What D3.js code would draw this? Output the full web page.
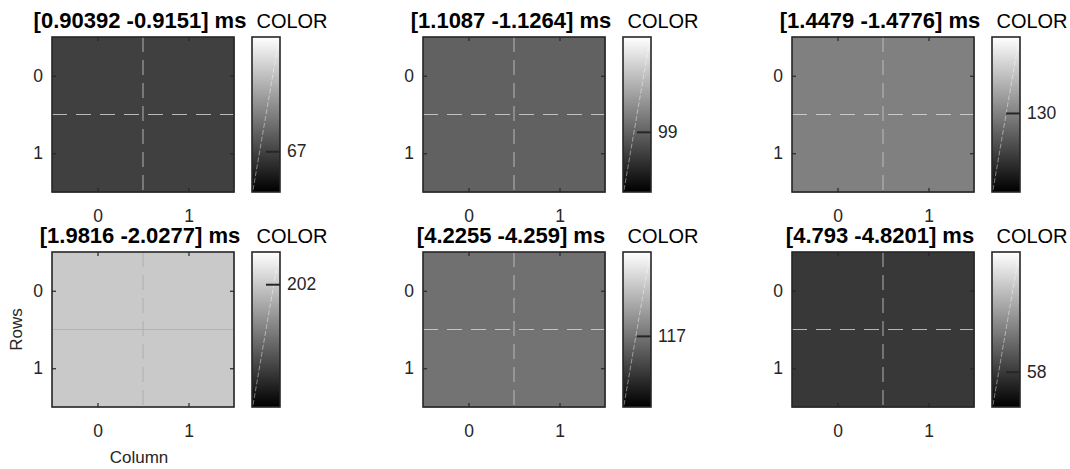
<!DOCTYPE html>
<html><head><meta charset="utf-8">
<script src="https://cdn.jsdelivr.net/npm/d3@7"></script>
<style>
html,body{margin:0;padding:0;background:#fff;}
svg{display:block;font-family:"Liberation Sans",Arial,sans-serif;}
</style></head>
<body><svg id="chart" width="1070" height="469"></svg>
<script>
// ---- data ----
const panelTitles = ["[0.90392 -0.9151] ms", "[1.1087 -1.1264] ms", "[1.4479 -1.4776] ms",
                     "[1.9816 -2.0277] ms", "[4.2255 -4.259] ms", "[4.793 -4.8201] ms"];
const colorbarValues = [67, 99, 130, 202, 117, 58];
const cellValues = [
  [[64, 64], [64, 64]],
  [[97, 97], [97, 97]],
  [[128, 128], [128, 128]],
  [[201, 201], [201, 201]],
  [[112, 112], [115, 115]],
  [[56, 56], [56, 56]]
];
const rowTicks = [0, 1];
const colTicks = [0, 1];
const colorbarTitle = "COLOR";
const xLabel = "Column";
const yLabel = "Rows";
const colorDomain = [0, 255];

// ---- layout ----
const colLeft = [52, 423, 792];
const rowTop = [37, 252];
const W = 182, H = 155;
const cbGap = 18, cbW = 28;
const ink = "#262626";

const svg = d3.select("#chart");
const defs = svg.append("defs");
const grad = defs.append("linearGradient").attr("id", "gray").attr("x1", 0).attr("y1", 1).attr("x2", 0).attr("y2", 0);
grad.append("stop").attr("offset", "0%").attr("stop-color", "#000");
grad.append("stop").attr("offset", "100%").attr("stop-color", "#fff");

const x = d3.scaleLinear().domain([-0.5, 1.5]).range([0, W]);
const y = d3.scaleLinear().domain([-0.5, 1.5]).range([0, H]);
const cbY = d3.scaleLinear().domain(colorDomain).range([H, 0]);
const gray = v => d3.rgb(v, v, v).toString();

panelTitles.forEach((title, i) => {
  const r = Math.floor(i / 3), c = i % 3;
  const g = svg.append("g").attr("transform", `translate(${colLeft[c]},${rowTop[r]})`);
  const vals = cellValues[i];
  const cells = [];
  vals.forEach((row, ri) => row.forEach((v, ci) => cells.push({ri, ci, v})));
  g.selectAll("rect.cell").data(cells).enter().append("rect")
    .attr("x", d => x(d.ci - 0.5)).attr("y", d => y(d.ri - 0.5))
    .attr("width", x(0.5) - x(-0.5) + 0.5).attr("height", y(0.5) - y(-0.5) + 0.5)
    .attr("fill", d => gray(d.v));
  const light = colorbarValues[i] > 160;
  const gridCol = light ? "#b2b2b2" : "rgba(225,225,225,0.75)";
  // grid lines at cell boundaries
  g.append("line").attr("x1", x(0.5)).attr("x2", x(0.5)).attr("y1", 0).attr("y2", H)
    .attr("stroke", light ? "rgba(170,170,170,0.7)" : "rgba(200,200,200,0.7)").attr("stroke-width", 1.2)
    .attr("stroke-dasharray", "15,8");
  g.append("line").attr("x1", 0).attr("x2", W).attr("y1", y(0.5)).attr("y2", y(0.5))
    .attr("stroke", gridCol).attr("stroke-width", 1)
    .attr("stroke-dasharray", light ? null : "15,9");
  // axes
  const ax = [
    d3.axisBottom(x).tickValues(colTicks).tickSize(-4).tickPadding(18).tickFormat(d3.format("d")),
    d3.axisTop(x).tickValues(colTicks).tickSize(-4).tickFormat(""),
    d3.axisLeft(y).tickValues(rowTicks).tickSize(-4).tickPadding(9).tickFormat(d3.format("d")),
    d3.axisRight(y).tickValues(rowTicks).tickSize(-4).tickFormat("")
  ];
  const pos = [[0, H], [0, 0], [0, 0], [W, 0]];
  ax.forEach((a, k) => {
    const ag = g.append("g").attr("transform", `translate(${pos[k][0]},${pos[k][1]})`).call(a);
    ag.select(".domain").remove();
    ag.selectAll("line").attr("stroke", ink).attr("stroke-width", 1.2);
    ag.selectAll("text").attr("font-size", 17.5).attr("fill", ink).attr("font-family", "Liberation Sans, Arial, sans-serif");
  });
  g.append("rect").attr("width", W).attr("height", H).attr("fill", "none")
    .attr("stroke", ink).attr("stroke-width", 1.6);
  // title
  g.append("text").attr("x", W / 2 - 3).attr("y", -9.5).attr("text-anchor", "middle")
    .attr("font-size", 22).attr("font-weight", "bold").attr("fill", "#000").text(title);

  // colorbar
  const cb = g.append("g").attr("transform", `translate(${W + cbGap},0)`);
  cb.append("rect").attr("width", cbW).attr("height", H).attr("fill", "url(#gray)");
  cb.append("line").attr("x1", 1).attr("y1", H - 2).attr("x2", cbW - 1).attr("y2", 2)
    .attr("stroke", "rgba(255,255,255,0.55)").attr("stroke-width", 0.8).attr("stroke-dasharray", "5,2");
  const cax = cb.append("g").attr("transform", `translate(${cbW},0)`)
    .call(d3.axisRight(cbY).tickValues([colorbarValues[i]]).tickSize(-14).tickPadding(7));
  cax.select(".domain").remove();
  cax.selectAll("line").attr("stroke", ink).attr("stroke-width", 2);
  cax.selectAll("text").attr("font-size", 17.5).attr("fill", ink).attr("font-family", "Liberation Sans, Arial, sans-serif");
  cb.append("rect").attr("width", cbW).attr("height", H).attr("fill", "none")
    .attr("stroke", ink).attr("stroke-width", 1.6);
  cb.append("text").attr("x", cbW / 2 + 26).attr("y", -9.5).attr("text-anchor", "middle")
    .attr("font-size", 20).attr("fill", "#000").text(colorbarTitle);

  if (i === 3) {
    g.append("text").attr("x", W / 2 - 4).attr("y", H + 56).attr("text-anchor", "middle")
      .attr("font-size", 17).attr("fill", ink).text(xLabel);
    g.append("text").attr("transform", `translate(${-30},${H / 2}) rotate(-90)`)
      .attr("text-anchor", "middle").attr("font-size", 17).attr("fill", ink).text(yLabel);
  }
});
</script></body></html>
